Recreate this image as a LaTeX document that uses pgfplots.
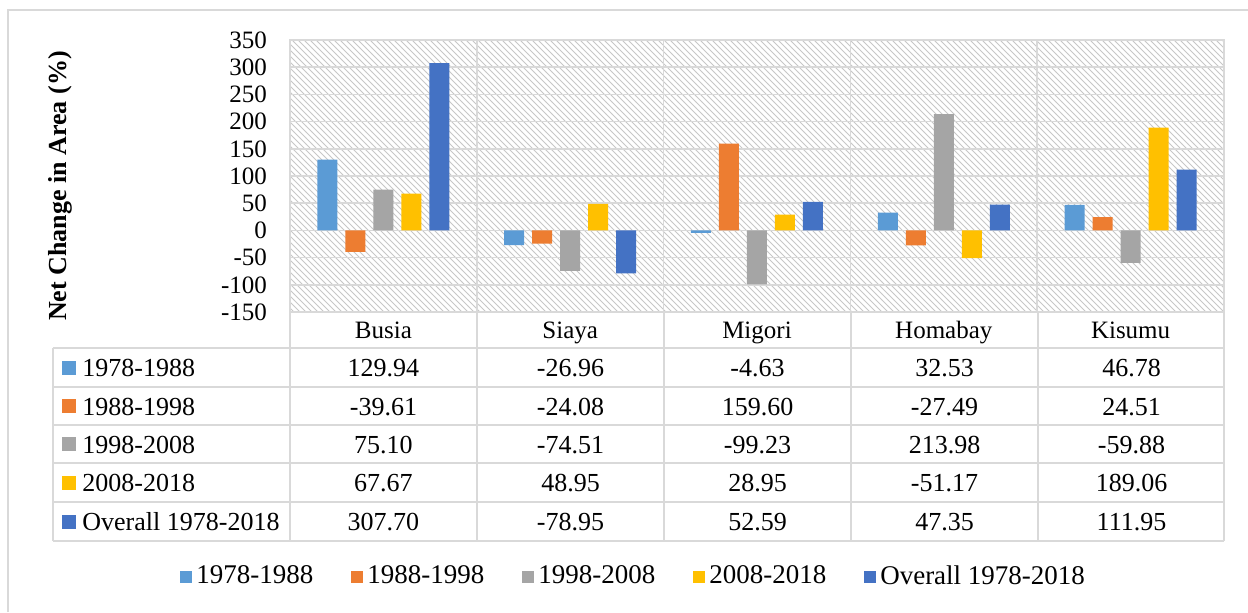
\documentclass[border=0pt]{standalone}
\usepackage{fontspec}
\setmainfont{Liberation Serif}
\usepackage{pgfplots}
\pgfplotsset{compat=1.18}
\usetikzlibrary{patterns}
\definecolor{c1}{HTML}{5B9BD5}
\definecolor{c2}{HTML}{ED7D31}
\definecolor{c3}{HTML}{A5A5A5}
\definecolor{c4}{HTML}{FFC000}
\definecolor{c5}{HTML}{4472C4}
\definecolor{gridc}{HTML}{D9D9D9}
\begin{document}
\fontsize{13pt}{15pt}\selectfont
\begin{tikzpicture}
\begin{axis}[
    scale only axis,
    width=467pt, height=136pt,
    ybar=4pt, bar width=10pt,
    xmin=-0.5, xmax=4.5, ymin=-150, ymax=350,
    ytick={-150,-100,...,350},
    xtick={0,...,4},
    xticklabels={Busia,Siaya,Migori,Homabay,Kisumu},
    xticklabel style={anchor=base, yshift=-13pt},
    yticklabel style={xshift=-7pt},
    major tick length=0pt, minor tick length=0pt,
    minor xtick={0.5,1.5,2.5,3.5},
    xminorgrids, ymajorgrids,
    grid style={gridc, line width=0.8pt},
    minor grid style={gridc, line width=0.8pt},
    axis line style={gridc, line width=0.8pt},
    axis background/.style={pattern=north west lines, pattern color=black!22},
    /pgf/number format/assume math mode=true,
    tick label style={font=\fontsize{12.5pt}{14pt}\selectfont},
    legend columns=5,
    legend style={at={(0.369,-0.974)}, anchor=center, draw=none,
        font=\fontsize{13.5pt}{15pt}\selectfont,
        /tikz/every even column/.append style={column sep=17pt}},
    legend image code/.code={\fill[#1] (0pt,-3pt) rectangle (6pt,3pt);},
]
% net change in area (%) per period
\addplot[fill=c1, draw=none] coordinates {(0,129.94) (1,-26.96) (2,-4.63) (3,32.53) (4,46.78)};
\addplot[fill=c2, draw=none] coordinates {(0,-39.61) (1,-24.08) (2,159.60) (3,-27.49) (4,24.51)};
\addplot[fill=c3, draw=none] coordinates {(0,75.10) (1,-74.51) (2,-99.23) (3,213.98) (4,-59.88)};
\addplot[fill=c4, draw=none] coordinates {(0,67.67) (1,48.95) (2,28.95) (3,-51.17) (4,189.06)};
\addplot[fill=c5, draw=none] coordinates {(0,307.70) (1,-78.95) (2,52.59) (3,47.35) (4,111.95)};
\legend{1978-1988,1988-1998,1998-2008,2008-2018,Overall 1978-2018}
\end{axis}
% data table below the plot, in pixel units of the reference
\begin{scope}[shift={(-145pt,156pt)}, x=0.5pt, y=-0.5pt]
\foreach \y in {348,387,425,463,502,541}
    \draw[gridc, line width=0.8pt] (53,\y) -- (1224,\y);
\draw[gridc, line width=0.8pt] (53,348) -- (53,541);
\foreach \x in {290,477,664,851,1038,1224}
    \draw[gridc, line width=0.8pt] (\x,312) -- (\x,541);
\foreach \c/\t/\y in {c1/1978-1988/367.5, c2/1988-1998/406, c3/1998-2008/444,
        c4/2008-2018/482.5, c5/Overall 1978-2018/521.5} {
    \fill[\c] (62,\y-7) rectangle (76,\y+7);
    \node[anchor=base west, inner sep=0pt] at (82,\y+9) {\t};
}
\foreach \y/\a/\b/\cc/\d/\e in {
        367.5/129.94/-26.96/-4.63/32.53/46.78,
        406/-39.61/-24.08/159.60/-27.49/24.51,
        444/75.10/-74.51/-99.23/213.98/-59.88,
        482.5/67.67/48.95/28.95/-51.17/189.06,
        521.5/307.70/-78.95/52.59/47.35/111.95} {
    \node[anchor=base, inner sep=0pt] at (383.5,\y+9) {\a};
    \node[anchor=base, inner sep=0pt] at (570.5,\y+9) {\b};
    \node[anchor=base, inner sep=0pt] at (757.5,\y+9) {\cc};
    \node[anchor=base, inner sep=0pt] at (944.5,\y+9) {\d};
    \node[anchor=base, inner sep=0pt] at (1131.5,\y+9) {\e};
}
\node[rotate=90, font=\bfseries] at (60,186) {Net Change in Area (\%)};
\draw[gridc, line width=0.8pt] (8,612) -- (8,10) -- (1248,10);
\pgfresetboundingbox
\useasboundingbox (0,0) rectangle (1248,612);
\end{scope}
\end{tikzpicture}
\end{document}
